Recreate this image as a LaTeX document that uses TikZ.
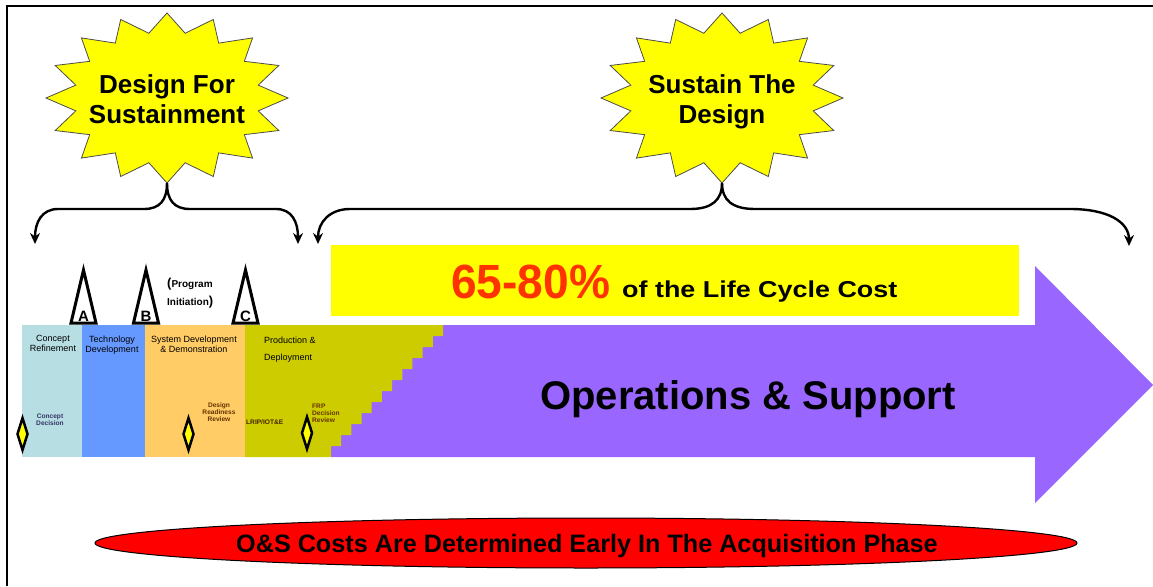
\documentclass[tikz,border=0pt]{standalone}
\usepackage{fontspec}
\setmainfont{Liberation Sans}
\usetikzlibrary{arrows.meta}
\definecolor{burstyellow}{RGB}{255,255,0}
\definecolor{crblue}{RGB}{183,222,226}
\definecolor{tdblue}{RGB}{102,153,255}
\definecolor{sdorange}{RGB}{255,204,102}
\definecolor{pdolive}{RGB}{204,204,0}
\definecolor{ospurple}{RGB}{153,102,255}
\definecolor{pctred}{RGB}{255,51,0}
\definecolor{navytxt}{RGB}{51,51,102}
\definecolor{browntxt}{RGB}{102,51,0}
\begin{document}
\begin{tikzpicture}[x=1pt,y=-1pt,
  burst/.style={fill=burstyellow, draw=black!70, line width=0.8pt, line join=miter},
  burstlabel/.style={font=\bfseries\fontsize{26}{30}\selectfont, align=center, inner sep=0pt},
  bracearrow/.style={line width=2.4pt, -{Stealth[length=11pt,width=10pt]}},
  msbox/.style={fill=white, draw=black, line width=3pt, line join=miter, miter limit=20},
  msletter/.style={font=\bfseries\fontsize{15}{15}\selectfont, inner sep=0pt, anchor=base},
  msdiamond/.style={fill=burstyellow, draw=black, line width=2.5pt, line join=miter, miter limit=20},
  phaselabel/.style={font=\fontsize{9}{10}\selectfont, align=center, inner sep=0pt, anchor=north},
  smalllabel/.style={font=\bfseries\fontsize{6.6}{7.2}\selectfont, inner sep=0pt},
]
\useasboundingbox (0,0) rectangle (1153,586);
\fill[white] (0,0) rectangle (1153,586);
% frame
\draw[line width=2.5pt, line join=miter] (7,586) -- (7,6) -- (1153,6);

% starbursts
\coordinate (c1) at (167,98);
\coordinate (c2) at (722,98);
\foreach \cc in {c1,c2}{
  \draw[burst] ([shift={(\cc)}]90:121pt and 85pt)
    \foreach \i [evaluate=\i as \a using 90+22.5*\i, evaluate=\i as \b using 90+22.5*\i+11.25] in {0,...,15} {
      -- ([shift={(\cc)}]\b:93pt and 66pt) -- ([shift={(\cc)}]\a+22.5:121pt and 85pt)
    } -- cycle;
}
\node[burstlabel, anchor=north] (dfs) at (167,74) {Design For\\Sustainment};
\node[burstlabel, anchor=north] (std) at (722,74) {Sustain The\\Design};

% braces
\coordinate (b1) at (167,183);
\coordinate (t1L) at (35,244);
\coordinate (t1R) at (298,244);
\coordinate (b2) at (722,183);
\coordinate (t2L) at (318,244);
\coordinate (t2R) at (1129,246);
\draw[bracearrow] (b1) .. controls (167,200) and (160,209) .. (144,209) -- (58,209) .. controls (42,209) and (35,222) .. (t1L);
\draw[bracearrow] (b1) .. controls (167,200) and (174,209) .. (190,209) -- (276,209) .. controls (292,209) and (298,222) .. (t1R);
\draw[bracearrow] (b2) .. controls (722,200) and (712,209) .. (690,209) -- (350,209) .. controls (330,209) and (318,222) .. (t2L);
\draw[bracearrow] (b2) .. controls (722,200) and (732,209) .. (755,209) -- (1070,209) .. controls (1108,209) and (1129,222) .. (t2R);

% yellow cost box
\fill[burstyellow] (331,245) rectangle (1019,316);
\node[anchor=base west, inner sep=0pt, text=pctred, font=\bfseries\fontsize{48}{50}\selectfont] (pct) at (451,298) {\scalebox{0.96}[1]{65-80\%}};
\node[anchor=base west, inner sep=0pt, font=\bfseries\fontsize{23}{25}\selectfont] (lcc) at (622,297) {\scalebox{1.17}[1]{of the Life Cycle Cost}};

% purple arrow
\fill[ospurple] (331,325) -- (1035,325) -- (1035,266) -- (1153,385) -- (1035,503) -- (1035,457) -- (331,457) -- cycle;
\node[anchor=base, inner sep=0pt, font=\bfseries\fontsize{40}{44}\selectfont] (ops) at (748,409) {Operations \& Support};

% phases
\fill[crblue] (22,325) rectangle (82,457);
\fill[tdblue] (82,325) rectangle (145,457);
\fill[sdorange] (145,325) rectangle (245,457);
\fill[pdolive] (245,325) -- (443,325)
  \foreach \k in {1,...,11} { -- ({443-10.18*(\k-1)},{325+11*\k}) -- ({443-10.18*\k},{325+11*\k}) }
  -- (331,457) -- (245,457) -- cycle;

\node[phaselabel] (cr) at (53,335.5) {Concept\\Refinement};
\node[phaselabel] (td) at (112,335.5) {Technology\\Development};
\node[phaselabel] (sdd) at (194,335.5) {System Development\\\& Demonstration};
\node[phaselabel, anchor=north west, align=left, font=\fontsize{9}{17}\selectfont] (pd) at (264,336.5) {Production \&\\Deployment};

% milestones
\draw[msbox] (71,323) -- (83.5,270) -- (96,323) -- cycle;
\draw[msbox] (133.5,323) -- (146,270) -- (158.5,323) -- cycle;
\draw[msbox] (233,323) -- (245.5,270) -- (258,323) -- cycle;
\node[msletter] (mA) at (83.5,321) {A};
\node[msletter] (mB) at (146,321) {B};
\node[msletter] (mC) at (245.5,321) {C};
\node[anchor=base west, inner sep=0pt, font=\bfseries\fontsize{10}{12}\selectfont] (prog) at (167,287) {{\fontsize{13}{13}\selectfont(}Program};
\node[anchor=base west, inner sep=0pt, font=\bfseries\fontsize{10}{12}\selectfont] (init) at (167,305) {Initiation{\fontsize{13}{13}\selectfont)}};

% decision diamonds
\draw[msdiamond] (22.5,418) -- (27.5,434) -- (22.5,450) -- (17.5,434) -- cycle;
\draw[msdiamond] (188.5,418) -- (193.5,434) -- (188.5,450) -- (183.5,434) -- cycle;
\draw[msdiamond] (307,417) -- (312,433) -- (307,449) -- (302,433) -- cycle;
\node[smalllabel, text=navytxt, align=center, anchor=north] (cd) at (50,413.5) {Concept\\Decision};
\node[smalllabel, text=browntxt, align=center, anchor=north] (drr) at (219,402.5) {Design\\Readiness\\Review};
\node[smalllabel, text=browntxt!70!black, anchor=base west] (lrip) at (246,424) {LRIP/IOT\&E};
\node[smalllabel, text=browntxt, align=left, anchor=north west] (frp) at (312,403.5) {FRP\\Decision\\Review};

% bottom ellipse
\draw[fill=red, draw=black, line width=1pt] (586,543) ellipse [x radius=491pt, y radius=25pt];
\node[anchor=base, inner sep=0pt, font=\bfseries\fontsize{25.2}{27}\selectfont] (osc) at (587,552) {O\&S Costs Are Determined Early In The Acquisition Phase};
\end{tikzpicture}
\end{document}
